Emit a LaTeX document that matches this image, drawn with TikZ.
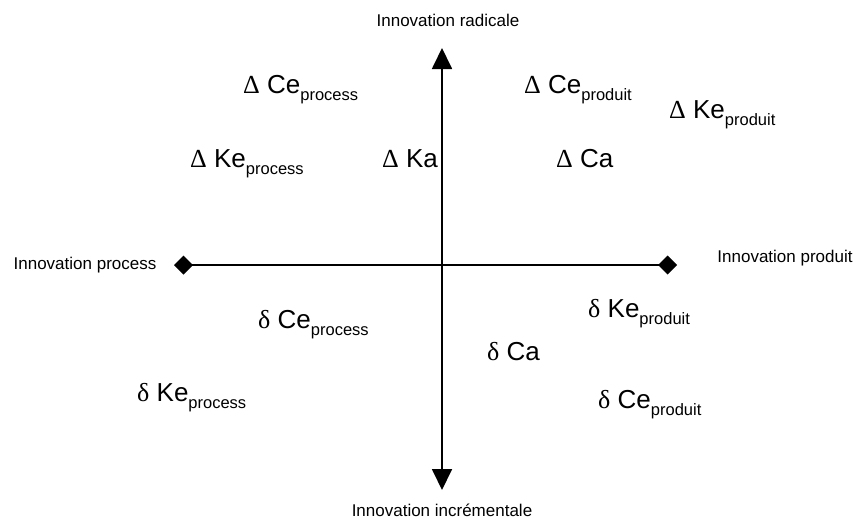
\documentclass[tikz,border=0pt]{standalone}
\usepackage{fontspec}
\setmainfont{Liberation Sans}
\newfontfamily\greekfont{Liberation Serif}
\usetikzlibrary{arrows.meta}
\newcommand{\lowtxt}[1]{\raisebox{-0.3em}{\fontsize{16.5}{17}\selectfont #1}}
\newcommand{\gk}[1]{{\greekfont #1}\ }

\begin{document}
\begin{tikzpicture}[x=1pt, y=-1pt,
    every node/.style={font=\fontsize{26}{30}\selectfont, inner sep=0pt},
    axislabel/.style={font=\fontsize{17}{20}\selectfont},
    term/.style={anchor=base west}]
    \useasboundingbox (0,0) rectangle (856,520);

    % axes
    \coordinate (rad) at (442,48);
    \coordinate (inc) at (442,490);
    \coordinate (proc) at (174,265);
    \coordinate (prod) at (677,265);
    \draw[line width=1.8pt, {Triangle[length=21pt,width=20pt]}-{Triangle[length=21pt,width=20pt]}] (inc) -- (rad);
    \draw[line width=1.8pt, {Diamond[length=19pt,width=19pt]}-{Diamond[length=19pt,width=19pt]}] (proc) -- (prod);

    \node[axislabel] (lrad) at (448,20) {Innovation radicale};
    \node[axislabel] (linc) at (442,510) {Innovation incrémentale};
    \node[axislabel] (lproc) at (85,265) {Innovation process};
    \node[axislabel] (lprod) at (785,258) {Innovation produit};

    % radical side
    \node[term] (cepro) at (243,93) {\gk{Δ}Ce\lowtxt{process}};
    \node[term] (kepro) at (190,167) {\gk{Δ}Ke\lowtxt{process}};
    \node[term] (ka) at (382,167) {\gk{Δ}Ka};
    \node[term] (ceprod) at (524,93) {\gk{Δ}Ce\lowtxt{produit}};
    \node[term] (keprod) at (669,118) {\gk{Δ}Ke\lowtxt{produit}};
    \node[term] (ca) at (556,167) {\gk{Δ}Ca};

    % incremental side
    \node[term] (icepro) at (258,328) {\gk{δ}Ce\lowtxt{process}};
    \node[term] (ikepro) at (137,401) {\gk{δ}Ke\lowtxt{process}};
    \node[term] (ikeprod) at (588,317) {\gk{δ}Ke\lowtxt{produit}};
    \node[term] (ica) at (487,360) {\gk{δ}Ca};
    \node[term] (iceprod) at (598,408) {\gk{δ}Ce\lowtxt{produit}};
\end{tikzpicture}
\end{document}
